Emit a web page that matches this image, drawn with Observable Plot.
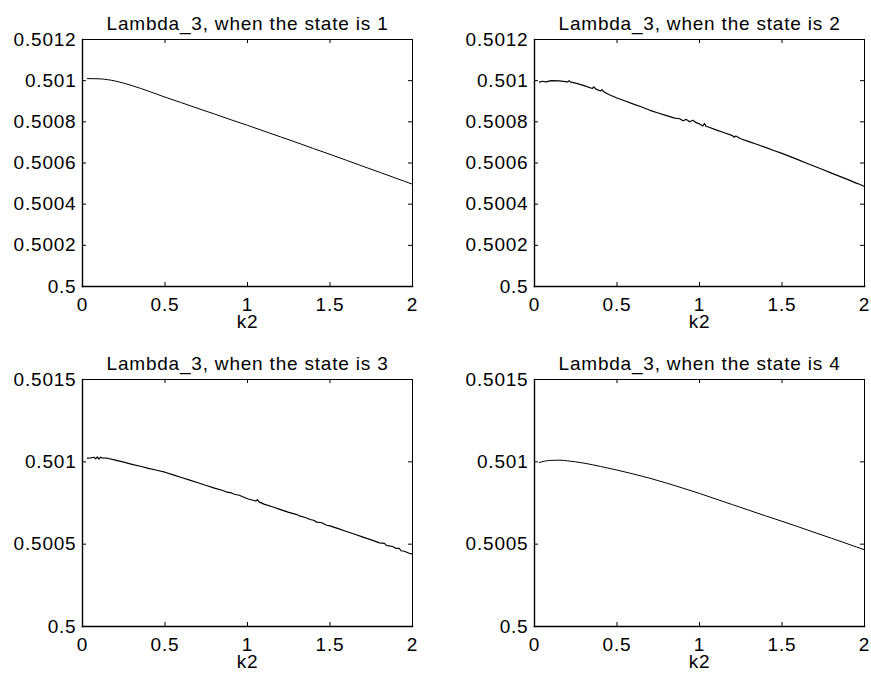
<!DOCTYPE html>
<html><head><meta charset="utf-8">
<script src="https://cdn.jsdelivr.net/npm/d3@7"></script>
<script src="https://cdn.jsdelivr.net/npm/@observablehq/plot@0.6"></script>
<style>
html,body{margin:0;padding:0;background:#fff;}
#wrap{position:relative;width:871px;height:679px;overflow:hidden;background:#fff;}
#wrap svg{position:absolute;}
#wrap svg text{letter-spacing:0.8px;}
</style></head><body><div id="wrap"></div>
<script>
const titles = [
  "Lambda_3, when the state is 1",
  "Lambda_3, when the state is 2",
  "Lambda_3, when the state is 3",
  "Lambda_3, when the state is 4"
];
const xLabel = "k2";
const xTicks = [0, 0.5, 1, 1.5, 2];
const xTickLabels = ["0", "0.5", "1", "1.5", "2"];
const yTicksTop = [0.5, 0.5002, 0.5004, 0.5006, 0.5008, 0.501, 0.5012];
const yTickLabelsTop = ["0.5", "0.5002", "0.5004", "0.5006", "0.5008", "0.501", "0.5012"];
const yTicksBottom = [0.5, 0.5005, 0.501, 0.5015];
const yTickLabelsBottom = ["0.5", "0.5005", "0.501", "0.5015"];

// state 1 (smooth)
const k2_s1 = [0.03, 0.1, 0.2, 0.3, 0.4, 0.5, 0.6, 0.7, 0.8, 0.9, 1.0, 1.1, 1.2, 1.3, 1.4, 1.5, 1.6, 1.7, 1.8, 1.9, 2.0];
const lambda_s1 = [0.501010, 0.501009, 0.500998, 0.500976, 0.500949, 0.500920, 0.500893, 0.500865, 0.500838, 0.500810, 0.500783, 0.500755, 0.500727, 0.500699, 0.500670, 0.500642, 0.500613, 0.500584, 0.500555, 0.500526, 0.500497];

// state 2 (noisy)
const k2_s2 = [0.03, 0.05, 0.07, 0.1, 0.15, 0.2, 0.21, 0.22, 0.25, 0.3, 0.35, 0.36, 0.37, 0.4, 0.41, 0.42, 0.45, 0.5, 0.55, 0.6, 0.65, 0.7, 0.75, 0.8, 0.85, 0.88, 0.9, 0.92, 0.94, 0.96, 0.98, 1.0, 1.02, 1.03, 1.04, 1.05, 1.1, 1.15, 1.2, 1.21, 1.22, 1.25, 1.3, 1.35, 1.4, 1.45, 1.5, 1.55, 1.6, 1.65, 1.7, 1.75, 1.8, 1.85, 1.9, 1.95, 1.97, 2.0];
const lambda_s2 = [0.500993, 0.500997, 0.500994, 0.501000, 0.500999, 0.500994, 0.501000, 0.500993, 0.500988, 0.500976, 0.500962, 0.500970, 0.500960, 0.500950, 0.500956, 0.500946, 0.500933, 0.500916, 0.500901, 0.500886, 0.500872, 0.500856, 0.500843, 0.500830, 0.500818, 0.500815, 0.500805, 0.500812, 0.500800, 0.500808, 0.500796, 0.500790, 0.500780, 0.500792, 0.500778, 0.500776, 0.500761, 0.500747, 0.500733, 0.500725, 0.500731, 0.500718, 0.500704, 0.500690, 0.500676, 0.500661, 0.500647, 0.500631, 0.500615, 0.500599, 0.500583, 0.500567, 0.500551, 0.500535, 0.500519, 0.500502, 0.500497, 0.500486];

// state 3 (noisy)
const k2_s3 = [0.03, 0.05, 0.07, 0.08, 0.09, 0.1, 0.11, 0.12, 0.15, 0.2, 0.25, 0.3, 0.35, 0.4, 0.45, 0.5, 0.55, 0.6, 0.65, 0.7, 0.75, 0.8, 0.85, 0.87, 0.9, 0.92, 0.95, 1.0, 1.05, 1.06, 1.07, 1.1, 1.15, 1.2, 1.25, 1.3, 1.32, 1.35, 1.38, 1.4, 1.42, 1.45, 1.48, 1.5, 1.55, 1.6, 1.65, 1.7, 1.75, 1.8, 1.83, 1.84, 1.85, 1.88, 1.9, 1.92, 1.93, 1.95, 1.98, 2.0];
const lambda_s3 = [0.501022, 0.501024, 0.501028, 0.501018, 0.501030, 0.501016, 0.501028, 0.501024, 0.501022, 0.501010, 0.500998, 0.500985, 0.500973, 0.500960, 0.500949, 0.500937, 0.500921, 0.500905, 0.500889, 0.500873, 0.500856, 0.500840, 0.500826, 0.500818, 0.500812, 0.500803, 0.500797, 0.500776, 0.500762, 0.500770, 0.500757, 0.500743, 0.500727, 0.500710, 0.500693, 0.500679, 0.500670, 0.500662, 0.500650, 0.500645, 0.500634, 0.500630, 0.500615, 0.500611, 0.500594, 0.500577, 0.500560, 0.500543, 0.500526, 0.500508, 0.500505, 0.500494, 0.500491, 0.500486, 0.500474, 0.500474, 0.500460, 0.500457, 0.500445, 0.500440];

// state 4 (smooth)
const k2_s4 = [0.03, 0.06, 0.1, 0.15, 0.2, 0.3, 0.4, 0.5, 0.6, 0.7, 0.8, 0.9, 1.0, 1.1, 1.2, 1.3, 1.4, 1.5, 1.6, 1.7, 1.8, 1.9, 2.0];
const lambda_s4 = [0.500996, 0.501004, 0.501009, 0.501010, 0.501006, 0.500992, 0.500972, 0.500950, 0.500926, 0.500900, 0.500871, 0.500840, 0.500808, 0.500774, 0.500740, 0.500706, 0.500672, 0.500639, 0.500605, 0.500570, 0.500536, 0.500501, 0.500466];

const FONT = "'Liberation Sans', Arial, Helvetica, sans-serif";
const FS = 19;

function panel({k2, vals, title, yDomain, yTicks, yLabels, left, top, width, height, noisy}) {
  const mL = 82, mT = 39, fw = 330, fh = 247;
  const mR = width - mL - fw, mB = height - mT - fh;
  const data = k2.map((x, i) => ({x, y: vals[i]}));
  const xfmt = d => xTickLabels[xTicks.indexOf(d)];
  const yfmt = d => yLabels[yTicks.indexOf(d)];
  const svg = Plot.plot({
    width, height, marginLeft: mL, marginRight: mR, marginTop: mT, marginBottom: mB,
    style: {fontFamily: FONT, fontSize: FS + "px", color: "black", background: "transparent", overflow: "visible"},
    x: {domain: [0, 2]},
    y: {domain: yDomain},
    marks: [
      Plot.tickX(xTicks, {x: d => d, insetTop: fh - 4, stroke: "black"}),
      Plot.tickX(xTicks, {x: d => d, insetBottom: fh - 4, stroke: "black"}),
      Plot.tickY(yTicks, {y: d => d, insetRight: fw - 4, stroke: "black"}),
      Plot.tickY(yTicks, {y: d => d, insetLeft: fw - 4, stroke: "black"}),
      Plot.axisX({anchor: "bottom", ticks: xTicks, tickSize: 0, tickPadding: 11, tickFormat: xfmt, label: null, fontSize: FS}),
      Plot.axisY({anchor: "left", ticks: yTicks, tickSize: 0, tickPadding: 6, tickFormat: yfmt, label: null, fontSize: FS}),
      Plot.line(data, {x: "x", y: "y", stroke: "black", strokeWidth: noisy ? 1.2 : 1, curve: noisy ? "linear" : "monotone-x"}),
      Plot.frame({stroke: "black", strokeWidth: 1}),
      Plot.frame({anchor: "left", stroke: "black", strokeWidth: 1.4}),
      Plot.frame({anchor: "bottom", stroke: "black", strokeWidth: 1.6}),
      Plot.text([title], {frameAnchor: "top", dy: -23, fontSize: FS, fill: "black"}),
      Plot.text([xLabel], {frameAnchor: "bottom", dy: 41, fontSize: FS, fill: "black"})
    ]
  });
  svg.style.left = left + "px";
  svg.style.top = top + "px";
  document.getElementById("wrap").appendChild(svg);
}

panel({k2: k2_s1, vals: lambda_s1, title: titles[0], yDomain: [0.5, 0.5012], yTicks: yTicksTop, yLabels: yTickLabelsTop, left: 0, top: 0, width: 440, height: 340, noisy: false});
panel({k2: k2_s2, vals: lambda_s2, title: titles[1], yDomain: [0.5, 0.5012], yTicks: yTicksTop, yLabels: yTickLabelsTop, left: 452, top: 0, width: 419, height: 340, noisy: true});
panel({k2: k2_s3, vals: lambda_s3, title: titles[2], yDomain: [0.5, 0.5015], yTicks: yTicksBottom, yLabels: yTickLabelsBottom, left: 0, top: 340, width: 440, height: 339, noisy: true});
panel({k2: k2_s4, vals: lambda_s4, title: titles[3], yDomain: [0.5, 0.5015], yTicks: yTicksBottom, yLabels: yTickLabelsBottom, left: 452, top: 340, width: 419, height: 339, noisy: false});
</script></body></html>
